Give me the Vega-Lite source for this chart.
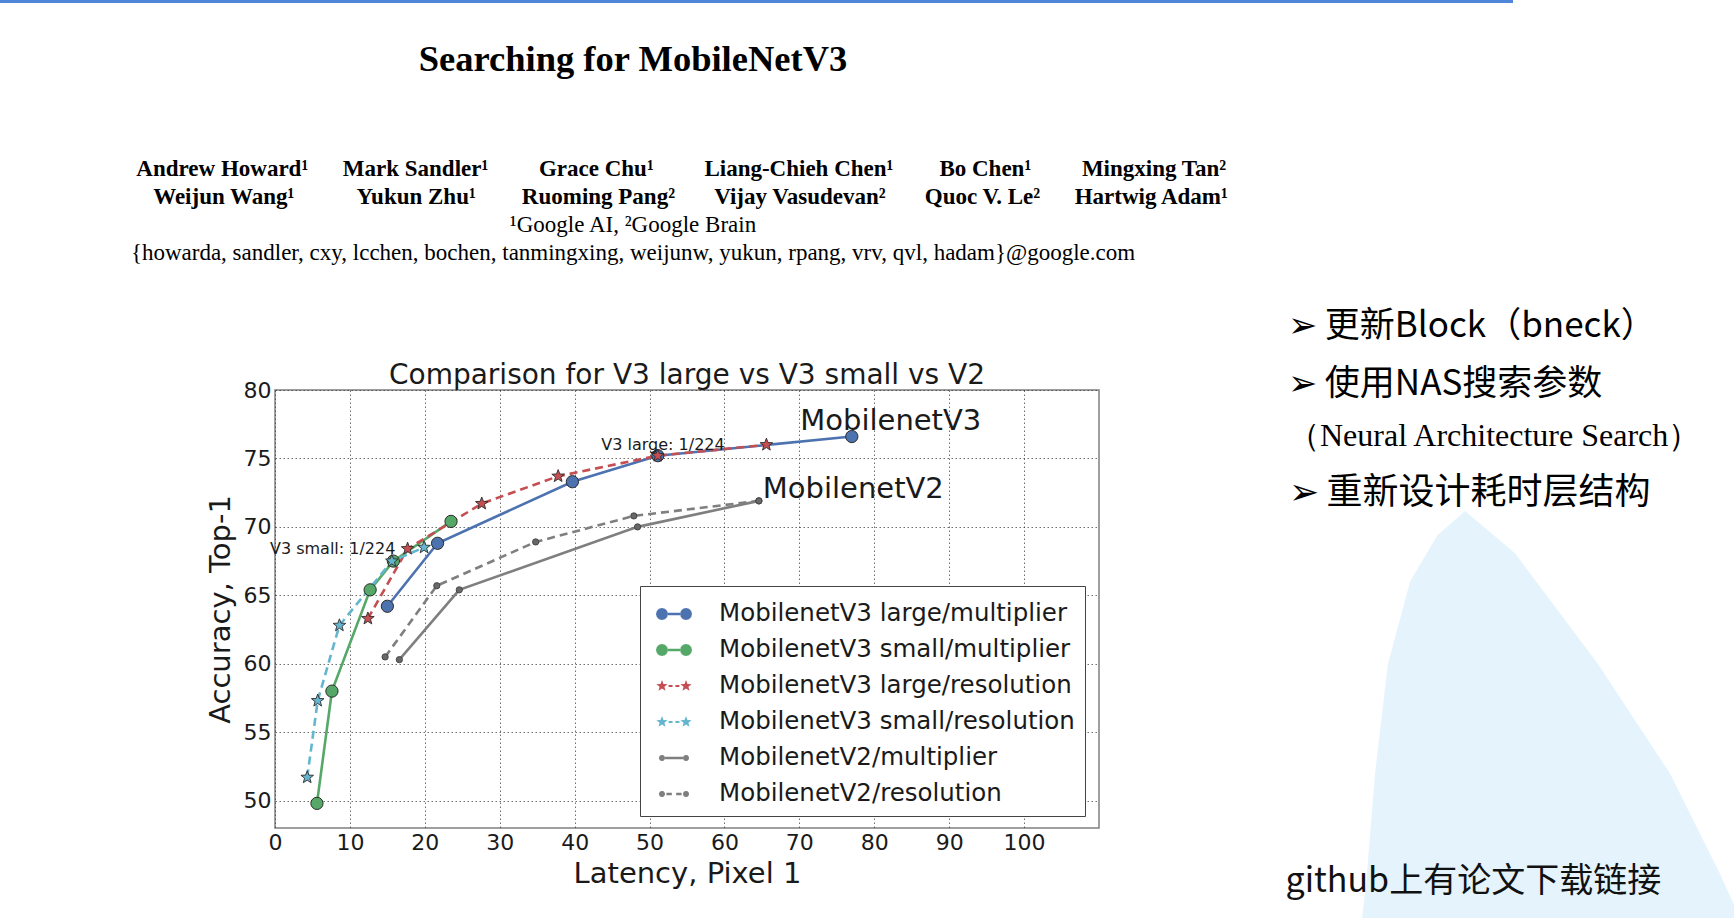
{
  "$schema": "https://vega.github.io/schema/vega-lite/v6.json",
  "background": "white",
  "padding": 0,
  "bounds": "flush",
  "spacing": 387,
  "config": {
    "view": {"stroke": null},
    "font": "DejaVu Sans",
    "axis": {"labelFont": "DejaVu Sans", "titleFont": "DejaVu Sans", "titleFontWeight": "normal"},
    "title": {"fontWeight": "normal"}
  },
  "datasets": {
    "topbar": [{"bar": "top"}],
    "points": [
      {"series": "MobilenetV3 large/multiplier", "latency": 15.0, "accuracy": 64.2},
      {"series": "MobilenetV3 large/multiplier", "latency": 21.7, "accuracy": 68.8},
      {"series": "MobilenetV3 large/multiplier", "latency": 39.7, "accuracy": 73.3},
      {"series": "MobilenetV3 large/multiplier", "latency": 51.1, "accuracy": 75.2},
      {"series": "MobilenetV3 large/multiplier", "latency": 77.0, "accuracy": 76.6},
      {"series": "MobilenetV3 small/multiplier", "latency": 5.6, "accuracy": 49.8},
      {"series": "MobilenetV3 small/multiplier", "latency": 7.6, "accuracy": 58.0},
      {"series": "MobilenetV3 small/multiplier", "latency": 12.7, "accuracy": 65.4},
      {"series": "MobilenetV3 small/multiplier", "latency": 15.8, "accuracy": 67.5},
      {"series": "MobilenetV3 small/multiplier", "latency": 23.5, "accuracy": 70.4},
      {"series": "MobilenetV3 large/resolution", "latency": 12.4, "accuracy": 63.3},
      {"series": "MobilenetV3 large/resolution", "latency": 17.7, "accuracy": 68.4},
      {"series": "MobilenetV3 large/resolution", "latency": 27.6, "accuracy": 71.7},
      {"series": "MobilenetV3 large/resolution", "latency": 37.8, "accuracy": 73.7},
      {"series": "MobilenetV3 large/resolution", "latency": 51.1, "accuracy": 75.2},
      {"series": "MobilenetV3 large/resolution", "latency": 65.6, "accuracy": 76.0},
      {"series": "MobilenetV3 small/resolution", "latency": 4.3, "accuracy": 51.7},
      {"series": "MobilenetV3 small/resolution", "latency": 5.7, "accuracy": 57.3},
      {"series": "MobilenetV3 small/resolution", "latency": 8.6, "accuracy": 62.8},
      {"series": "MobilenetV3 small/resolution", "latency": 15.6, "accuracy": 67.5},
      {"series": "MobilenetV3 small/resolution", "latency": 19.9, "accuracy": 68.5},
      {"series": "MobilenetV2/multiplier", "latency": 16.6, "accuracy": 60.3},
      {"series": "MobilenetV2/multiplier", "latency": 24.6, "accuracy": 65.4},
      {"series": "MobilenetV2/multiplier", "latency": 48.4, "accuracy": 70.0},
      {"series": "MobilenetV2/multiplier", "latency": 64.6, "accuracy": 71.9},
      {"series": "MobilenetV2/resolution", "latency": 14.7, "accuracy": 60.5},
      {"series": "MobilenetV2/resolution", "latency": 21.6, "accuracy": 65.7},
      {"series": "MobilenetV2/resolution", "latency": 34.8, "accuracy": 68.9},
      {"series": "MobilenetV2/resolution", "latency": 47.9, "accuracy": 70.8},
      {"series": "MobilenetV2/resolution", "latency": 64.6, "accuracy": 71.9}
    ],
    "bigLabels": [
      {"label": "MobilenetV3", "latency": 82.2, "accuracy": 77.7},
      {"label": "MobilenetV2", "latency": 77.2, "accuracy": 72.8}
    ],
    "smallLabels": [
      {"label": "V3 large: 1/224", "latency": 51.8, "accuracy": 76.0},
      {"label": "V3 small: 1/224", "latency": 7.7, "accuracy": 68.4}
    ],
    "triangle": [
      {"px": 16.6, "py": 0},
      {"px": 17.5, "py": 6.3},
      {"px": 19.5, "py": 27.3},
      {"px": 22.4, "py": 48.1},
      {"px": 27.4, "py": 63.8},
      {"px": 33.5, "py": 72.5},
      {"px": 39.7, "py": 77.1},
      {"px": 50.9, "py": 69.1},
      {"px": 69.5, "py": 48.1},
      {"px": 85.7, "py": 27.3},
      {"px": 96.9, "py": 8.3},
      {"px": 100, "py": 2.5}
    ]
  },
  "vconcat": [
    {
      "width": 1513,
      "height": 3,
      "view": {"fill": "#4f86d9", "stroke": null},
      "data": {"name": "topbar"},
      "mark": {"type": "rect", "color": "#4f86d9"},
      "encoding": {},
      "title": {
        "text": "Searching for MobileNetV3",
        "orient": "bottom",
        "anchor": "start",
        "align": "center",
        "frame": "group",
        "dx": 633,
        "offset": 39,
        "font": "Liberation Serif",
        "fontSize": 36.5,
        "fontWeight": "bold",
        "color": "#000000"
      }
    },
    {
      "bounds": "flush",
      "spacing": 189,
      "hconcat": [
        {
          "width": 86,
          "height": 438,
          "data": {"name": "topbar"},
          "mark": {"type": "rect", "opacity": 0},
          "encoding": {},
          "title": {
            "text": [
              "\u200b\u2003\u2003\u2003\u2003\u2009Andrew Howard¹\u2003\u2002Mark Sandler¹\u2003\u2003\u2009Grace Chu¹\u2003\u2003\u2009Liang-Chieh Chen¹\u2003\u2003Bo Chen¹\u2003\u2003\u2009Mingxing Tan²",
              "\u200b\u2003\u2003\u2003\u2003\u2003Weijun Wang¹\u2003\u2003\u2002\u2009Yukun Zhu¹\u2003\u2003Ruoming Pang²\u2003\u2002\u2009Vijay Vasudevan²\u2003\u2002\u2009Quoc V. Le²\u2003\u2002Hartwig Adam¹"
            ],
            "subtitle": [
              "¹Google AI, ²Google Brain",
              "{howarda, sandler, cxy, lcchen, bochen, tanmingxing, weijunw, yukun, rpang, vrv, qvl, hadam}@google.com"
            ],
            "orient": "top",
            "anchor": "start",
            "align": "center",
            "frame": "group",
            "dx": 633,
            "offset": 125,
            "font": "Liberation Serif",
            "fontSize": 23,
            "fontWeight": "bold",
            "lineHeight": 28,
            "color": "#000000",
            "subtitleFont": "Liberation Serif",
            "subtitleFontSize": 23,
            "subtitleFontWeight": "normal",
            "subtitleLineHeight": 28,
            "subtitlePadding": 5,
            "subtitleColor": "#000000"
          }
        },
        {
          "width": 824,
          "height": 438,
          "view": {"stroke": "#808080", "strokeWidth": 1.5},
          "title": {
            "text": "Comparison for V3 large vs V3 small vs V2",
            "font": "DejaVu Sans",
            "fontSize": 28,
            "fontWeight": "normal",
            "color": "#1a1a1a",
            "anchor": "middle",
            "frame": "group",
            "offset": -11
          },
          "data": {"name": "points"},
          "encoding": {
            "x": {
              "field": "latency",
              "type": "quantitative",
              "scale": {"domain": [0, 110], "nice": false, "zero": false},
              "axis": {
                "values": [0, 10, 20, 30, 40, 50, 60, 70, 80, 90, 100],
                "title": "Latency, Pixel 1",
                "titleFontSize": 29,
                "titleColor": "#1a1a1a",
                "titlePadding": 6,
                "labelFontSize": 22,
                "labelColor": "#1a1a1a",
                "labelPadding": 4,
                "labelFlush": false,
                "labelOverlap": false,
                "ticks": false,
                "domain": false,
                "grid": true,
                "gridDash": [1.5, 2.5],
                "gridColor": "#333333",
                "gridOpacity": 0.7
              }
            },
            "y": {
              "field": "accuracy",
              "type": "quantitative",
              "scale": {"domain": [48, 80], "nice": false, "zero": false},
              "axis": {
                "values": [50, 55, 60, 65, 70, 75, 80],
                "title": "Accuracy, Top-1",
                "titleFontSize": 29,
                "titleColor": "#1a1a1a",
                "titlePadding": 8,
                "labelFontSize": 22,
                "labelColor": "#1a1a1a",
                "labelPadding": 4,
                "labelOverlap": false,
                "ticks": false,
                "domain": false,
                "grid": true,
                "gridDash": [1.5, 2.5],
                "gridColor": "#333333",
                "gridOpacity": 0.7
              }
            }
          },
          "layer": [
            {
              "mark": {"type": "point", "filled": true, "size": 4, "opacity": 0},
              "encoding": {
                "shape": {
                  "field": "series",
                  "type": "nominal",
                  "scale": {
                    "domain": ["MobilenetV3 large/multiplier", "MobilenetV3 small/multiplier", "MobilenetV3 large/resolution", "MobilenetV3 small/resolution", "MobilenetV2/multiplier", "MobilenetV2/resolution"],
                    "range": [
                      "M-1,0L-0.955,-0.167L-0.834,-0.289L-0.667,-0.333L-0.5,-0.289L-0.379,-0.167L-0.334,0L-0.379,0.167L-0.5,0.289L-0.667,0.333L-0.834,0.289L-0.955,0.167ZM0.334,0L0.379,-0.167L0.5,-0.289L0.667,-0.333L0.834,-0.289L0.955,-0.167L1,0L0.955,0.167L0.834,0.289L0.667,0.333L0.5,0.289L0.379,0.167ZM-0.334,-0.07L0.334,-0.07L0.334,0.07L-0.334,0.07Z",
                      "M-1,0L-0.955,-0.167L-0.834,-0.289L-0.667,-0.333L-0.5,-0.289L-0.379,-0.167L-0.334,0L-0.379,0.167L-0.5,0.289L-0.667,0.333L-0.834,0.289L-0.955,0.167ZM0.334,0L0.379,-0.167L0.5,-0.289L0.667,-0.333L0.834,-0.289L0.955,-0.167L1,0L0.955,0.167L0.834,0.289L0.667,0.333L0.5,0.289L0.379,0.167ZM-0.334,-0.07L0.334,-0.07L0.334,0.07L-0.334,0.07Z",
                      "M-0.667,-0.33L-0.585,-0.113L-0.353,-0.102L-0.534,0.043L-0.473,0.267L-0.667,0.14L-0.861,0.267L-0.8,0.043L-0.981,-0.102L-0.749,-0.113ZM0.667,-0.33L0.749,-0.113L0.981,-0.102L0.8,0.043L0.861,0.267L0.667,0.14L0.473,0.267L0.534,0.043L0.353,-0.102L0.585,-0.113ZM-0.3,-0.06L-0.08,-0.06L-0.08,0.06L-0.3,0.06ZM0.08,-0.06L0.3,-0.06L0.3,0.06L0.08,0.06Z",
                      "M-0.667,-0.33L-0.585,-0.113L-0.353,-0.102L-0.534,0.043L-0.473,0.267L-0.667,0.14L-0.861,0.267L-0.8,0.043L-0.981,-0.102L-0.749,-0.113ZM0.667,-0.33L0.749,-0.113L0.981,-0.102L0.8,0.043L0.861,0.267L0.667,0.14L0.473,0.267L0.534,0.043L0.353,-0.102L0.585,-0.113ZM-0.3,-0.06L-0.08,-0.06L-0.08,0.06L-0.3,0.06ZM0.08,-0.06L0.3,-0.06L0.3,0.06L0.08,0.06Z",
                      "M-0.837,0L-0.814,-0.085L-0.752,-0.147L-0.667,-0.17L-0.582,-0.147L-0.52,-0.085L-0.497,0L-0.52,0.085L-0.582,0.147L-0.667,0.17L-0.752,0.147L-0.814,0.085ZM0.497,0L0.52,-0.085L0.582,-0.147L0.667,-0.17L0.752,-0.147L0.814,-0.085L0.837,0L0.814,0.085L0.752,0.147L0.667,0.17L0.582,0.147L0.52,0.085ZM-0.497,-0.07L0.497,-0.07L0.497,0.07L-0.497,0.07Z",
                      "M-0.837,0L-0.814,-0.085L-0.752,-0.147L-0.667,-0.17L-0.582,-0.147L-0.52,-0.085L-0.497,0L-0.52,0.085L-0.582,0.147L-0.667,0.17L-0.752,0.147L-0.814,0.085ZM0.497,0L0.52,-0.085L0.582,-0.147L0.667,-0.17L0.752,-0.147L0.814,-0.085L0.837,0L0.814,0.085L0.752,0.147L0.667,0.17L0.582,0.147L0.52,0.085ZM-0.42,-0.07L-0.12,-0.07L-0.12,0.07L-0.42,0.07ZM0.12,-0.07L0.42,-0.07L0.42,0.07L0.12,0.07Z"
                    ]
                  },
                  "legend": {
                    "orient": "none",
                    "legendX": 640,
                    "legendY": 586,
                    "title": null,
                    "symbolSize": 1296,
                    "symbolOpacity": 1,
                    "symbolStrokeWidth": 0,
                    "symbolOffset": 6,
                    "labelOffset": 27,
                    "labelFont": "DejaVu Sans",
                    "labelFontSize": 24.5,
                    "labelColor": "#1a1a1a",
                    "labelLimit": 600,
                    "rowPadding": 6,
                    "padding": 10,
                    "fillColor": "#ffffff",
                    "strokeColor": "#444444"
                  }
                },
                "color": {
                  "field": "series",
                  "type": "nominal",
                  "scale": {
                    "domain": ["MobilenetV3 large/multiplier", "MobilenetV3 small/multiplier", "MobilenetV3 large/resolution", "MobilenetV3 small/resolution", "MobilenetV2/multiplier", "MobilenetV2/resolution"],
                    "range": ["#4c72b0", "#55a868", "#c44e52", "#64b5cd", "#7f7f7f", "#7f7f7f"]
                  },
                  "legend": {
                    "orient": "none",
                    "legendX": 640,
                    "legendY": 586,
                    "title": null,
                    "symbolSize": 1296,
                    "symbolOpacity": 1,
                    "symbolStrokeWidth": 0,
                    "symbolOffset": 6,
                    "labelOffset": 27,
                    "labelFont": "DejaVu Sans",
                    "labelFontSize": 24.5,
                    "labelColor": "#1a1a1a",
                    "labelLimit": 600,
                    "rowPadding": 6,
                    "padding": 10,
                    "fillColor": "#ffffff",
                    "strokeColor": "#444444"
                  }
                }
              }
            },
            {
              "transform": [{"filter": {"field": "series", "oneOf": ["MobilenetV3 large/multiplier", "MobilenetV3 small/multiplier", "MobilenetV2/multiplier"]}}],
              "mark": {"type": "line", "strokeWidth": 2.6},
              "encoding": {"color": {"field": "series", "type": "nominal", "legend": null}}
            },
            {
              "transform": [{"filter": {"field": "series", "oneOf": ["MobilenetV3 large/resolution", "MobilenetV3 small/resolution", "MobilenetV2/resolution"]}}],
              "mark": {"type": "line", "strokeWidth": 2.6, "strokeDash": [8, 5]},
              "encoding": {"color": {"field": "series", "type": "nominal", "legend": null}}
            },
            {
              "transform": [{"filter": {"field": "series", "oneOf": ["MobilenetV2/multiplier", "MobilenetV2/resolution"]}}],
              "mark": {"type": "point", "shape": "circle", "filled": true, "size": 40, "color": "#686868", "stroke": "#3a3a3a", "strokeWidth": 0.8, "opacity": 1},
              "encoding": {"x": {"field": "latency", "type": "quantitative"}, "y": {"field": "accuracy", "type": "quantitative"}}
            },
            {
              "transform": [{"filter": {"field": "series", "oneOf": ["MobilenetV3 large/multiplier", "MobilenetV3 small/multiplier"]}}],
              "mark": {"type": "point", "shape": "circle", "filled": true, "size": 150, "stroke": "#2b2b2b", "strokeWidth": 1, "opacity": 1},
              "encoding": {"color": {"field": "series", "type": "nominal", "legend": null}}
            },
            {
              "transform": [{"filter": {"field": "series", "oneOf": ["MobilenetV3 large/resolution", "MobilenetV3 small/resolution"]}}],
              "mark": {"type": "point", "shape": "M0,-1L0.247,-0.34L0.951,-0.309L0.4,0.13L0.588,0.809L0,0.42L-0.588,0.809L-0.4,0.13L-0.951,-0.309L-0.247,-0.34Z", "filled": true, "size": 175, "stroke": "#2b2b2b", "strokeWidth": 0.9, "opacity": 1},
              "encoding": {"color": {"field": "series", "type": "nominal", "legend": null}}
            },
            {
              "data": {"name": "smallLabels"},
              "mark": {"type": "text", "font": "DejaVu Sans", "fontSize": 16, "color": "#1a1a1a", "align": "center", "baseline": "middle"},
              "encoding": {"text": {"field": "label", "type": "nominal"}}
            },
            {
              "data": {"name": "bigLabels"},
              "mark": {"type": "text", "font": "DejaVu Sans", "fontSize": 29, "color": "#1a1a1a", "align": "center", "baseline": "middle"},
              "encoding": {"text": {"field": "label", "type": "nominal"}}
            }
          ]
        },
        {
          "width": 446,
          "height": 528,
          "data": {"name": "triangle"},
          "title": {
            "text": ["➢ 更新Block（bneck）", "➢ 使用NAS搜索参数"],
            "subtitle": "（Neural Architecture Search）",
            "orient": "top",
            "anchor": "start",
            "align": "left",
            "frame": "group",
            "offset": -62,
            "font": "Noto Sans CJK SC",
            "fontSize": 35,
            "fontWeight": "normal",
            "lineHeight": 58,
            "color": "#000000",
            "subtitleFont": "Liberation Serif",
            "subtitleFontSize": 32,
            "subtitleColor": "#000000",
            "subtitlePadding": 19
          },
          "mark": {"type": "area", "color": "#e1f2fb", "opacity": 0.85},
          "encoding": {
            "x": {
              "field": "px",
              "type": "quantitative",
              "scale": {"domain": [0, 100], "nice": false, "zero": false},
              "axis": {
                "title": "github上有论文下载链接",
                "labels": false,
                "ticks": false,
                "domain": false,
                "grid": false,
                "zindex": 1,
                "titleX": -3,
                "titleY": -37,
                "titleAlign": "left",
                "titleBaseline": "middle",
                "titleFont": "Noto Sans CJK SC",
                "titleFontSize": 34,
                "titleFontWeight": "normal",
                "titleColor": "#111111"
              }
            },
            "y": {
              "field": "py",
              "type": "quantitative",
              "scale": {"domain": [0, 100], "nice": false, "zero": true},
              "axis": {
                "title": "➢ 重新设计耗时层结构",
                "labels": false,
                "ticks": false,
                "domain": false,
                "grid": false,
                "zindex": 1,
                "titleAngle": 0,
                "titleX": 0,
                "titleY": 102,
                "titleAlign": "left",
                "titleBaseline": "middle",
                "titleFont": "Noto Sans CJK SC",
                "titleFontSize": 36,
                "titleFontWeight": "normal",
                "titleColor": "#000000"
              }
            }
          }
        }
      ]
    }
  ]
}
